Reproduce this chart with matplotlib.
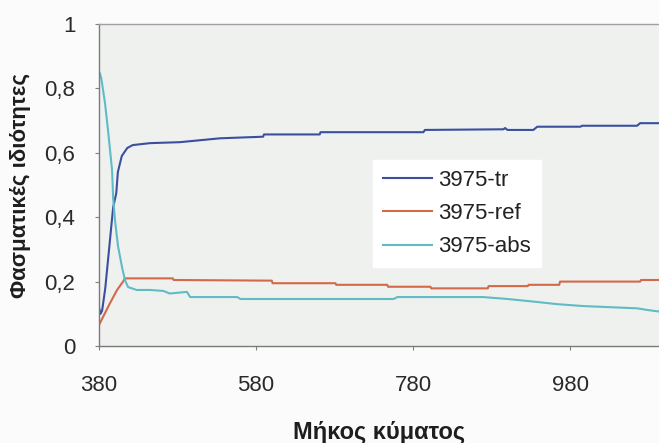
import matplotlib
matplotlib.use("Agg")
import matplotlib.pyplot as plt
from matplotlib.ticker import FuncFormatter

# Spectral properties of sample 3975 (wavelength in nm)
tr_wl = [380, 382, 384, 388, 394, 398, 402, 404, 409, 416, 423, 445, 483, 534,
         589, 590, 661, 662, 793, 795, 895, 897, 900, 933, 938, 993, 995, 1065, 1069, 1093]
tr_val = [0.12, 0.10, 0.11, 0.18, 0.33, 0.43, 0.475, 0.54, 0.59, 0.615, 0.624, 0.63, 0.633, 0.645,
          0.65, 0.657, 0.657, 0.664, 0.664, 0.671, 0.673, 0.677, 0.671, 0.671, 0.681, 0.681, 0.684, 0.684, 0.692, 0.692]

ref_wl = [380, 382, 394, 403, 410.6, 413, 474, 475, 600, 601, 681, 682, 747, 748,
          802, 803, 875, 876, 926, 927, 966, 967, 1069, 1070, 1093]
ref_val = [0.065, 0.075, 0.133, 0.174, 0.2, 0.21, 0.21, 0.205, 0.203, 0.195, 0.195, 0.19, 0.19, 0.184,
           0.184, 0.179, 0.179, 0.186, 0.186, 0.19, 0.19, 0.2, 0.2, 0.205, 0.205]

abs_wl = [380, 381, 383, 387.6, 391.5, 396.6, 398, 400.4, 404.2, 409.3, 413, 417, 428, 445,
          462, 470, 492, 496, 534, 556, 560, 562, 755, 760, 814, 869, 900, 933, 963, 997, 1065, 1078, 1093]
abs_val = [0.83, 0.848, 0.83, 0.755, 0.67, 0.547, 0.46, 0.39, 0.31, 0.245, 0.205, 0.183, 0.174, 0.174,
           0.171, 0.163, 0.168, 0.152, 0.152, 0.152, 0.146, 0.146, 0.146, 0.152, 0.152, 0.152, 0.146, 0.138, 0.13, 0.124, 0.117, 0.112, 0.107]

series_labels = ["3975-tr", "3975-ref", "3975-abs"]
series_colors = ["#3b4f9e", "#d2694b", "#5fbcc6"]

x_ticks = [380, 580, 780, 980]
y_ticks = [0, 0.2, 0.4, 0.6, 0.8, 1]

plt.rcParams["font.family"] = ["Liberation Sans", "DejaVu Sans"]

fig = plt.figure(figsize=(6.59, 4.43), dpi=100, facecolor="#fbfbfb")
ax = fig.add_axes([99 / 659, 97 / 443, 560 / 659, 322 / 443])
ax.set_facecolor("#eff1ef")

for wl, val, lab, col in zip([tr_wl, ref_wl, abs_wl], [tr_val, ref_val, abs_val],
                             series_labels, series_colors):
    ax.plot(wl, val, color=col, lw=1.5, label=lab, solid_joinstyle="round")

ax.set_xlim(380, 1093)
ax.set_ylim(0, 1)
ax.set_xticks(x_ticks)
ax.set_yticks(y_ticks)

def comma_fmt(v, pos):
    s = ("%g" % v)
    return s.replace(".", ",")

ax.yaxis.set_major_formatter(FuncFormatter(comma_fmt))
ax.tick_params(axis="both", labelsize=16, colors="#808080", labelcolor="#2a2a2a",
               length=3, width=0.8, direction="out")
ax.tick_params(axis="x", pad=18)
ax.tick_params(axis="y", pad=14)

for side in ["left", "bottom", "top"]:
    ax.spines[side].set_color("#7a7a7a")
    ax.spines[side].set_linewidth(1.0)
ax.spines["top"].set_color("#a0a0a0")
ax.spines["right"].set_visible(False)

ax.set_xlabel("Μήκος κύματος", fontsize=17, fontweight="bold", color="#1e1e1e", labelpad=18)
ax.set_ylabel("Φασματικές ιδιότητες", fontsize=16, fontweight="bold", color="#1e1e1e", labelpad=10)

leg = ax.legend(loc="upper left", bbox_to_anchor=(0.489, 0.578), borderaxespad=0,
                fontsize=16, frameon=True, fancybox=False, handlelength=2.2,
                handletextpad=0.3, labelspacing=0.55, borderpad=0.45)
leg.get_frame().set_facecolor("white")
leg.get_frame().set_edgecolor("white")
leg.get_frame().set_alpha(1.0)
for t in leg.get_texts():
    t.set_color("#222222")

fig.savefig("out.png", dpi=100, facecolor=fig.get_facecolor())
